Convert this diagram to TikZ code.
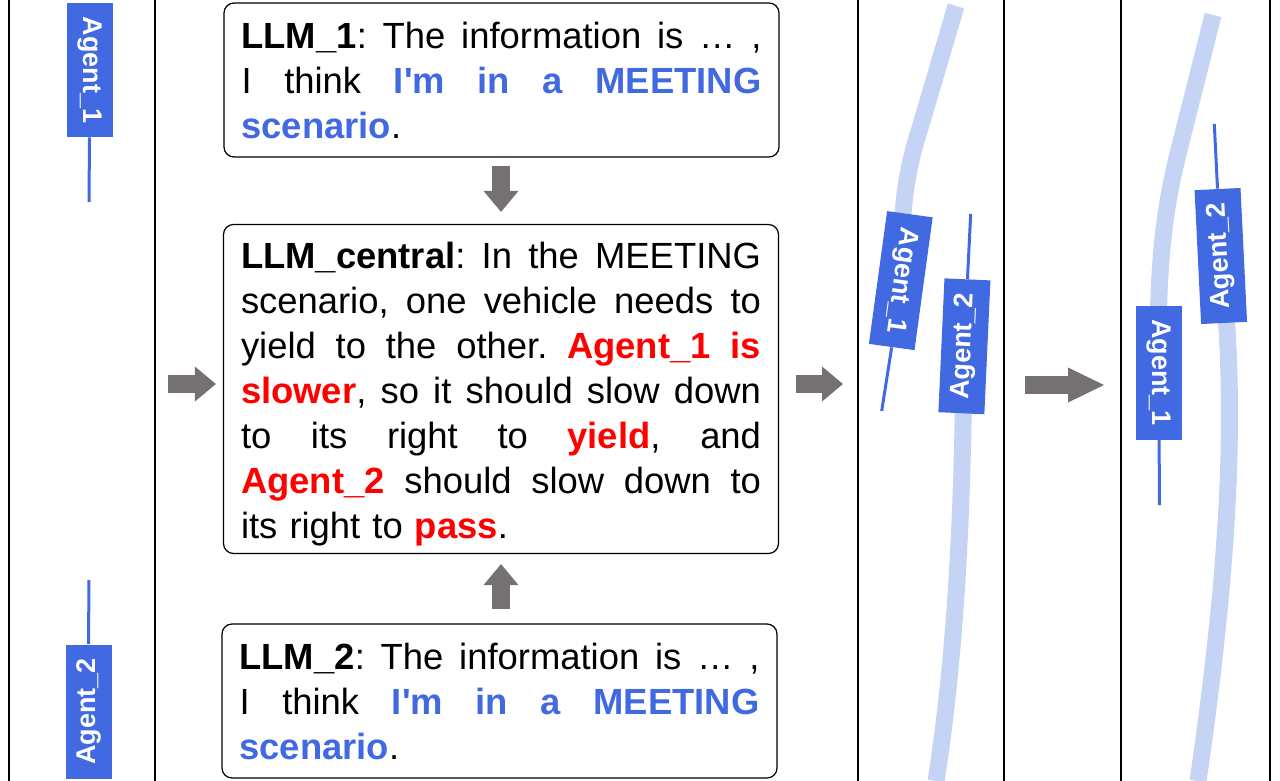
\documentclass[tikz,border=0pt]{standalone}
\usepackage{fontspec}
\setmainfont{Liberation Sans}[Ligatures=TeXOff]
\usetikzlibrary{arrows.meta}
\definecolor{agentblue}{HTML}{4169E1}
\definecolor{roadblue}{HTML}{C5D3F5}
\definecolor{arrowgray}{HTML}{767171}
\definecolor{hlred}{HTML}{FF0000}
% one justified line of a box
\newlength{\llmw}
\setlength{\llmw}{260pt}
\newcommand{\jl}[1]{\hbox to \llmw{\spaceskip=0.278em plus 1fil\relax #1}}
\newcommand{\hb}[1]{\textbf{\textcolor{agentblue}{#1}}}
\newcommand{\hr}[1]{\textbf{\textcolor{hlred}{#1}}}

\begin{document}
\begin{tikzpicture}[x=0.5pt, y=-0.5pt,
    every node/.style={font=\fontsize{18.2pt}{22.5pt}\selectfont\frenchspacing},
    llmbox/.style={draw, rounded corners=5pt, line width=0.6pt, text width=\llmw,
                   inner xsep=8.75pt, inner ysep=0pt, align=left},
    agent/.style={fill=agentblue, text=white, minimum width=67pt, minimum height=23pt,
                  inner sep=0pt, font=\fontsize{13.5pt}{15pt}\selectfont\bfseries},
    track/.style={draw=agentblue, line width=1.5pt},
    road/.style={draw=roadblue, line width=8.5pt},
    divider/.style={line width=0.8pt},
    blockarr/.style={draw=arrowgray, line width=9pt,
                     -{Triangle[width=17.5pt,length=10.5pt,line width=0pt]}},
    bigarr/.style={blockarr, -{Triangle[width=17.5pt,length=18pt,line width=0pt]}},
]
\useasboundingbox (0,0) rectangle (1280,781);
% panel dividers (pixel coordinates, y downwards)
\foreach \x in {9,155,858,1004,1121,1270}
  \draw[divider] (\x,0) -- (\x,781);

% Panel 1: both agents before the meeting
\node[agent, rotate=-90] (a1p1) at (89.5,70) {Agent\_1};
\node[agent, rotate=90] (a2p1) at (88.5,711.5) {Agent\_2};
\coordinate (t1p1) at (89,202);
\coordinate (t2p1) at (89,580);
\draw[track] (a1p1.east) -- (t1p1);
\draw[track] (a2p1.east) -- (t2p1);

% Panel 2: LLM reasoning
\node[llmbox, minimum height=77pt] (llm1) at (501.5,80)
  {\jl{\textbf{LLM\_1}: The information is … ,}
   \jl{I think \hb{I'm in a MEETING}}
   \hb{scenario}.};
\node[llmbox, minimum height=164.5pt] (central) at (501,389)
  {\jl{\rule{0pt}{18.75pt}\textbf{LLM\_central}: In the MEETING}
   \jl{scenario, one vehicle needs to}
   \jl{yield to the other. \hr{Agent\_1 is}}
   \jl{\hr{slower}, so it should slow down}
   \jl{to its right to \hr{yield}, and}
   \jl{\hr{Agent\_2} should slow down to}
   its right to \hr{pass}.};
\node[llmbox, minimum height=77pt] (llm2) at (499.5,701)
  {\jl{\textbf{LLM\_2}: The information is … ,}
   \jl{I think \hb{I'm in a MEETING}}
   \hb{scenario}.};
\coordinate (inL) at (168,384);
\coordinate (outR) at (843,384);
\draw[blockarr, shorten <=4pt, shorten >=6pt] (llm1.south -| central) -- (central.north);
\draw[blockarr, shorten <=7pt, shorten >=5pt] (llm2.north -| central) -- (central.south);
\draw[blockarr, shorten >=3.5pt] (inL) -- (inL -| central.west);
\draw[blockarr, shorten <=8.5pt] (outR -| central.east) -- (outR);

% Panel 3: agents at the meeting point
\draw[road] (956,6) -- (920,128) .. controls (906,172) and (901,205) .. (901,280);
\draw[road] (964,346) .. controls (963,520) and (955,660) .. (936,781);
\node[agent, rotate=-97.8] (a1p3) at (900.8,280.6) {Agent\_1};
\node[agent, rotate=87.4] (a2p3) at (964.4,346.3) {Agent\_2};
\coordinate (t1p3) at (881.7,411);
\coordinate (t2p3) at (970.7,214);
\draw[track] (a1p3.east) -- (t1p3);
\draw[track] (a2p3.east) -- (t2p3);

% Panel 4: arrow
\coordinate (midL) at (1025,385);
\coordinate (midR) at (1104,385);
\draw[bigarr] (midL) -- (midR);

% Panel 5: agents after yielding
\draw[road] (1213,15) -- (1182,138) .. controls (1166,200) and (1157,250) .. (1158,372);
\draw[road] (1221,256) .. controls (1234,380) and (1236,520) .. (1198,781);
\node[agent, rotate=-90] (a1p5) at (1159.2,372.5) {Agent\_1};
\node[agent, rotate=92.8] (a2p5) at (1220.8,256) {Agent\_2};
\coordinate (t1p5) at (1159.3,505);
\coordinate (t2p5) at (1214.3,124);
\draw[track] (a1p5.east) -- (t1p5);
\draw[track] (a2p5.east) -- (t2p5);
\end{tikzpicture}
\end{document}
